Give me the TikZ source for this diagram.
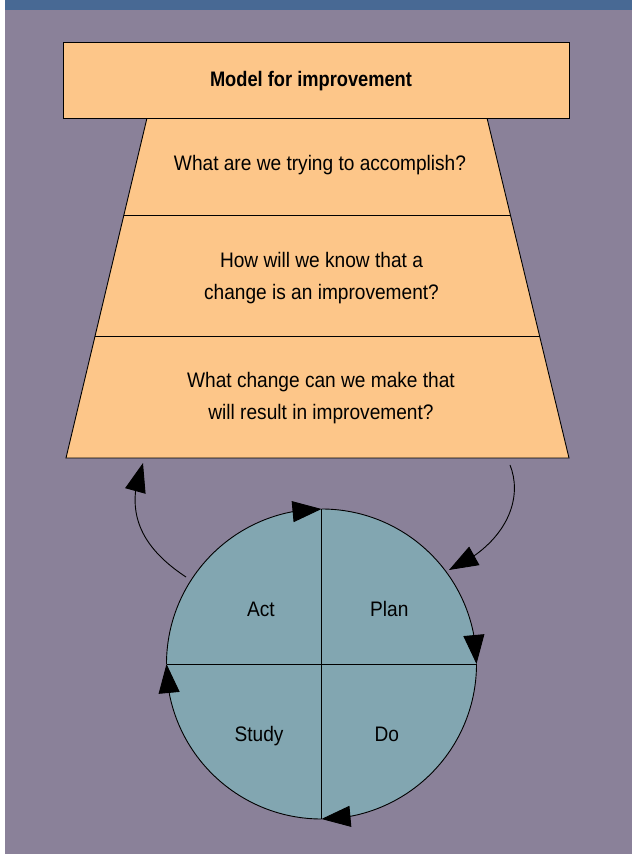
\documentclass[tikz,border=0pt]{standalone}
\usepackage{fontspec}
\setmainfont{Liberation Sans}[FakeStretch=0.91,BoldFeatures={FakeStretch=0.87}]
\usetikzlibrary{calc,arrows.meta,bending}
\definecolor{bgpurple}{RGB}{138,129,153}
\definecolor{topblue}{RGB}{72,105,148}
\definecolor{boxorange}{RGB}{253,198,137}
\definecolor{cycteal}{RGB}{130,166,177}
\tikzset{
  txt/.style={font=\fontsize{21}{32}\selectfont, align=center, inner sep=0pt, anchor=base},
  edge/.style={line width=0.9pt, draw=black},
  tip/.style={-{Triangle[length=29pt,width=21pt,flex]}},
}
\begin{document}
\begin{tikzpicture}[x=1pt,y=1pt]
\useasboundingbox (0,0) rectangle (632,854);
\fill[white] (0,0) rectangle (632,854);
\fill[bgpurple] (5,0) rectangle (632,844);
\fill[topblue] (5,844) rectangle (632,854);
% trapezoid
\coordinate (TL) at (147,736);
\coordinate (TR) at (487,736);
\coordinate (BL) at (66,396);
\coordinate (BR) at (569,396);
\filldraw[fill=boxorange, edge] (TL) -- (TR) -- (BR) -- (BL) -- cycle;
\draw[edge] ($(TL)!0.288!(BL)$) -- ($(TR)!0.288!(BR)$);
\draw[edge] ($(TL)!0.643!(BL)$) -- ($(TR)!0.643!(BR)$);
% title box
\node[draw=black, line width=1.1pt, fill=boxorange, minimum width=506pt, minimum height=76pt, inner sep=0pt, outer sep=0pt] (title) at (316.3,773.7) {};
\node[txt, font=\fontsize{21}{32}\selectfont\bfseries] (titletext) at (311,767) {Model for improvement};
\node[txt] (q1) at (320,683) {What are we trying to accomplish?};
\node[txt] (q2) at (321.5,554) {How will we know that a\\change is an improvement?};
\node[txt] (q3) at (321,434) {What change can we make that\\will result in improvement?};
% cycle
\node[circle, fill=cycteal, minimum size=310pt, inner sep=0pt, outer sep=0pt] (cyc) at (321.5,190) {};
\draw[edge] (cyc.north) -- (cyc.south);
\draw[edge] (cyc.west) -- (cyc.east);
\draw[edge, tip] (cyc.west) arc[start angle=180, end angle=90, radius=155pt];
\draw[edge, tip] (cyc.north) arc[start angle=90, end angle=0, radius=155pt];
\draw[edge, tip] (cyc.east) arc[start angle=0, end angle=-90, radius=155pt];
\draw[edge, tip] (cyc.south) arc[start angle=270, end angle=180, radius=155pt];
\node[txt] (act) at (261,237) {Act};
\node[txt] (plan) at (389.3,237) {Plan};
\node[txt] (study) at (259,112.5) {Study};
\node[txt] (do) at (386.8,112.5) {Do};
% outer arrows
\coordinate (lstart) at (186,277);
\coordinate (lend) at (143,391);
\coordinate (rstart) at (510,389);
\coordinate (rend) at (449,284);
\draw[edge, tip] (lstart) .. controls (145,304) and (122,339) .. (lend);
\draw[edge, tip] (rstart) .. controls (524,354) and (505,309) .. (rend);
\end{tikzpicture}
\end{document}
